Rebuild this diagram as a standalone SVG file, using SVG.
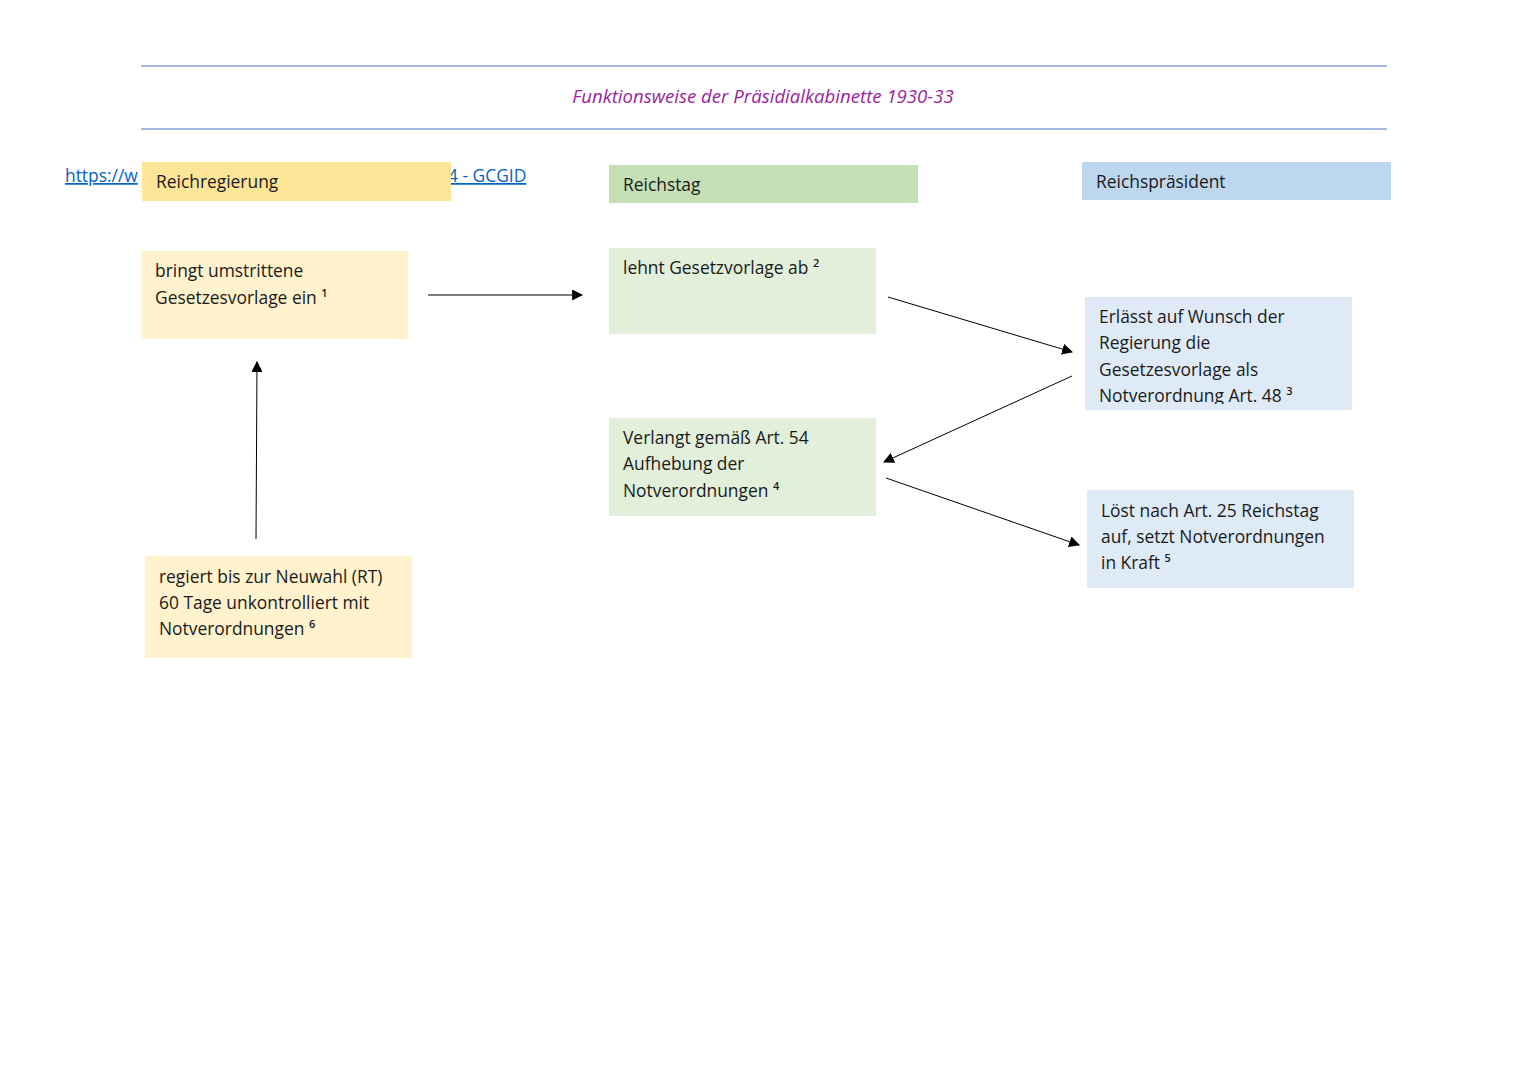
<svg xmlns="http://www.w3.org/2000/svg" width="1528" height="1080" viewBox="0 0 1528 1080">
<style>
text{font-family:"Open Sans","Liberation Sans",sans-serif;font-size:17.4px;fill:#1a1a1a}
.t{font-style:italic;fill:#9a1fa0;font-size:18.6px}
.lnk{fill:#0563c1;text-decoration:underline}
.hr{stroke:#4472c4;stroke-width:1}
.c{stroke:#000;stroke-width:1;fill:none;marker-end:url(#ah)}
.sup{font-size:11px;font-weight:600}
</style>
<defs>
<marker id="ah" viewBox="0 0 10 10" refX="9" refY="5" markerWidth="11" markerHeight="11" markerUnits="userSpaceOnUse" orient="auto"><path d="M0,0 L10,5 L0,10 z" fill="#000"/></marker>
<clipPath id="cp3"><rect x="1085" y="297" width="267" height="107"/></clipPath>
</defs>
<rect width="1528" height="1080" fill="#fff"/>
<g id="title">
<line class="hr" x1="141" y1="66" x2="1387" y2="66"/>
<line class="hr" x1="141" y1="129" x2="1387" y2="129"/>
<text class="t" x="763" y="103" text-anchor="middle">Funktionsweise der Präsidialkabinette 1930-33</text>
</g>
<g id="link">
<text class="lnk" x="65" y="182">https://w</text>
<text class="lnk" x="448" y="182">4 - GCGID</text>
</g>
<g id="h1"><rect x="142" y="162" width="309" height="39" fill="#ffe597"/><text x="156" y="188">Reichregierung</text></g>
<g id="h2"><rect x="609" y="165" width="309" height="38" fill="#c5e0b4"/><text x="623" y="191">Reichstag</text></g>
<g id="h3"><rect x="1082" y="162" width="309" height="38" fill="#bdd7ee"/><text x="1096" y="188">Reichspräsident</text></g>
<g id="n1"><rect x="141" y="251" width="267" height="88" fill="#fff2cc"/><text x="155" y="277">bringt umstrittene</text><text x="155" y="304">Gesetzesvorlage ein <tspan class="sup" dy="-7">1</tspan></text></g>
<g id="n2"><rect x="609" y="248" width="267" height="86" fill="#e2efda"/><text x="623" y="274">lehnt Gesetzvorlage ab <tspan class="sup" dy="-7">2</tspan></text></g>
<g id="n3"><rect x="1085" y="297" width="267" height="113" fill="#deebf7"/><g clip-path="url(#cp3)"><text x="1099" y="323">Erlässt auf Wunsch der</text><text x="1099" y="349">Regierung die</text><text x="1099" y="376">Gesetzesvorlage als</text><text x="1099" y="402">Notverordnung Art. 48 <tspan class="sup" dy="-7">3</tspan></text></g></g>
<g id="n4"><rect x="609" y="418" width="267" height="98" fill="#e2efda"/><text x="623" y="444">Verlangt gemäß Art. 54</text><text x="623" y="470">Aufhebung der</text><text x="623" y="497">Notverordnungen <tspan class="sup" dy="-7">4</tspan></text></g>
<g id="n5"><rect x="1087" y="490" width="267" height="98" fill="#deebf7"/><text x="1101" y="517">Löst nach Art. 25 Reichstag</text><text x="1101" y="543">auf, setzt Notverordnungen</text><text x="1101" y="569">in Kraft <tspan class="sup" dy="-7">5</tspan></text></g>
<g id="n6"><rect x="145" y="556" width="267" height="102" fill="#fff2cc"/><text x="159" y="583">regiert bis zur Neuwahl (RT)</text><text x="159" y="609">60 Tage unkontrolliert mit</text><text x="159" y="635">Notverordnungen <tspan class="sup" dy="-7">6</tspan></text></g>
<g id="connectors">
<line class="c" x1="428" y1="295" x2="582" y2="295"/>
<line class="c" x1="888" y1="297" x2="1072" y2="352"/>
<line class="c" x1="1072" y1="376" x2="884" y2="462"/>
<line class="c" x1="886" y1="478" x2="1079" y2="545"/>
<line class="c" x1="256" y1="539" x2="257" y2="362"/>
</g>
</svg>
